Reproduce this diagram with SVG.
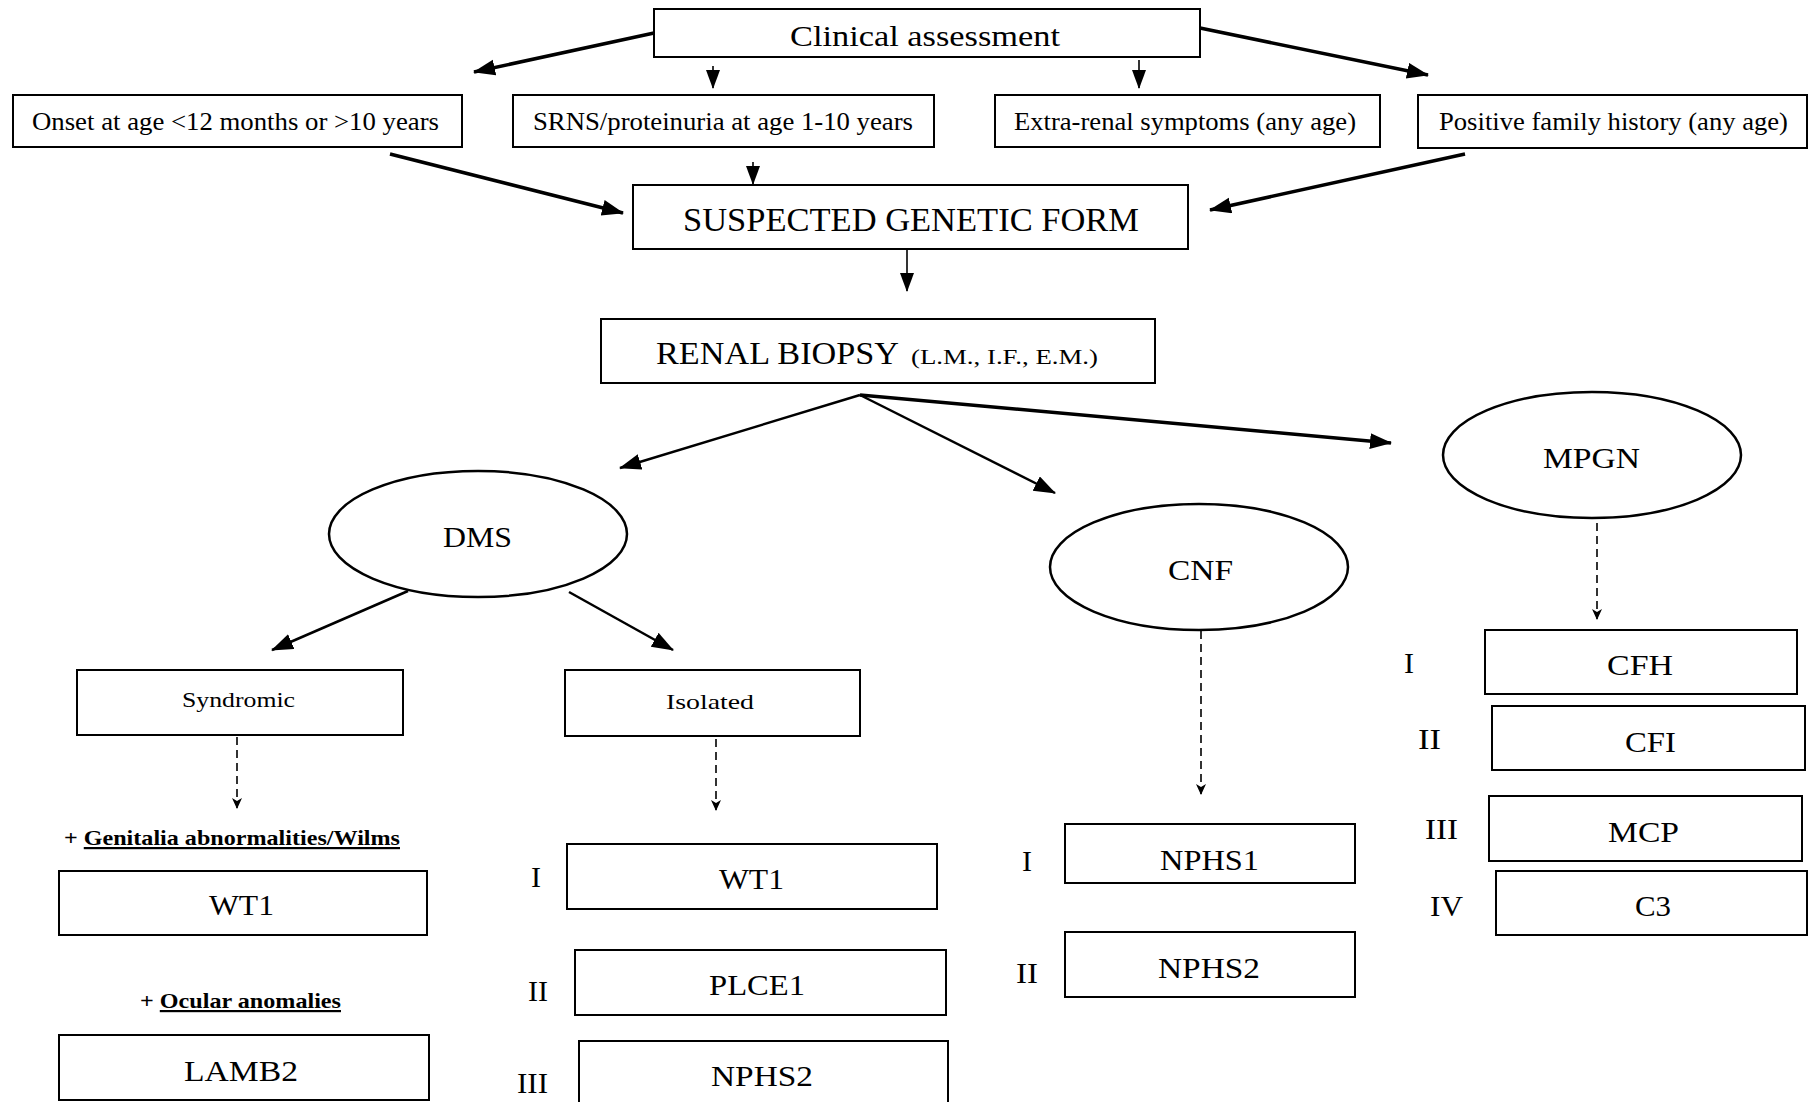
<svg xmlns="http://www.w3.org/2000/svg" width="1808" height="1102" viewBox="0 0 1808 1102">
<style>
.box{fill:#fff;stroke:#000;stroke-width:2}
.ell{fill:#fff;stroke:#000;stroke-width:2.5}
.t{font-family:"Liberation Serif","Times New Roman",serif;fill:#000}
.thick{stroke:#000;stroke-width:3.5;fill:none}
.mid{stroke:#000;stroke-width:2.5;fill:none}
.thin{stroke:#000;stroke-width:1.6;fill:none}
.dash{stroke:#000;stroke-width:1.6;fill:none;stroke-dasharray:8,5}
</style>
<defs>
<marker id="ah" markerUnits="userSpaceOnUse" markerWidth="24" markerHeight="18" refX="21" refY="8" orient="auto"><path d="M0,0 L22,8 L0,16 z" fill="#000"/></marker>
<marker id="av" markerUnits="userSpaceOnUse" markerWidth="20" markerHeight="16" refX="18" refY="7" orient="auto"><path d="M0,0 L19,7 L0,14 z" fill="#000"/></marker>
<marker id="ad" markerUnits="userSpaceOnUse" markerWidth="12" markerHeight="12" refX="10" refY="5" orient="auto"><path d="M0,0 L11,5 L0,10 L3,5 z" fill="#000"/></marker>
</defs>
<rect width="1808" height="1102" fill="#fff"/>

<g id="connectors">
<line class="thick" x1="654" y1="33" x2="474" y2="72" marker-end="url(#ah)"/>
<line class="thin" x1="713" y1="66" x2="713" y2="88" marker-end="url(#av)"/>
<line class="thin" x1="1139" y1="60" x2="1139" y2="88" marker-end="url(#av)"/>
<line class="thick" x1="1200" y1="28" x2="1428" y2="75" marker-end="url(#ah)"/>
<line class="thick" x1="390" y1="154" x2="623" y2="213" marker-end="url(#ah)"/>
<line class="thin" x1="753" y1="162" x2="753" y2="184" marker-end="url(#av)"/>
<line class="thick" x1="1465" y1="154" x2="1210" y2="210" marker-end="url(#ah)"/>
<line class="thin" x1="907" y1="243" x2="907" y2="291" marker-end="url(#av)"/>
<line class="mid" x1="860" y1="395" x2="620" y2="468" marker-end="url(#ah)"/>
<line class="mid" x1="860" y1="395" x2="1055" y2="493" marker-end="url(#ah)"/>
<line class="thick" x1="860" y1="395" x2="1391" y2="443" marker-end="url(#ah)"/>
<line class="mid" x1="408" y1="591" x2="272" y2="650" marker-end="url(#ah)"/>
<line class="mid" x1="569" y1="592" x2="673" y2="650" marker-end="url(#ah)"/>
<line class="dash" x1="237" y1="737" x2="237" y2="808" marker-end="url(#ad)"/>
<line class="dash" x1="716" y1="739" x2="716" y2="810" marker-end="url(#ad)"/>
<line class="dash" x1="1201" y1="631" x2="1201" y2="794" marker-end="url(#ad)"/>
<line class="dash" x1="1597" y1="523" x2="1597" y2="619" marker-end="url(#ad)"/>
</g>

<g id="clinical"><rect class="box" x="654" y="9" width="546" height="48"/><text class="t" x="790" y="46" font-size="30" textLength="270" lengthAdjust="spacingAndGlyphs">Clinical assessment</text></g>
<g id="onset"><rect class="box" x="13" y="95" width="449" height="52"/><text class="t" x="32" y="130" font-size="25" textLength="407" lengthAdjust="spacingAndGlyphs">Onset at age &lt;12 months or &gt;10 years</text></g>
<g id="srns"><rect class="box" x="513" y="95" width="421" height="52"/><text class="t" x="533" y="130" font-size="25" textLength="380" lengthAdjust="spacingAndGlyphs">SRNS/proteinuria at age 1-10 years</text></g>
<g id="extrarenal"><rect class="box" x="995" y="95" width="385" height="52"/><text class="t" x="1014" y="130" font-size="25" textLength="342" lengthAdjust="spacingAndGlyphs">Extra-renal symptoms (any age)</text></g>
<g id="family"><rect class="box" x="1418" y="95" width="389" height="53"/><text class="t" x="1439" y="130" font-size="25" textLength="349" lengthAdjust="spacingAndGlyphs">Positive family history (any age)</text></g>
<g id="suspected"><rect class="box" x="633" y="185" width="555" height="64"/><text class="t" x="683" y="231" font-size="33" textLength="456" lengthAdjust="spacingAndGlyphs">SUSPECTED GENETIC FORM</text></g>
<g id="biopsy"><rect class="box" x="601" y="319" width="554" height="64"/><text class="t" x="656" y="364" font-size="32"><tspan textLength="243" lengthAdjust="spacingAndGlyphs">RENAL BIOPSY</tspan><tspan x="911" font-size="22" textLength="187" lengthAdjust="spacingAndGlyphs">(L.M., I.F., E.M.)</tspan></text></g>

<g id="dms"><ellipse class="ell" cx="478" cy="534" rx="149" ry="63"/><text class="t" x="443" y="547" font-size="30" textLength="69" lengthAdjust="spacingAndGlyphs">DMS</text></g>
<g id="cnf"><ellipse class="ell" cx="1199" cy="567" rx="149" ry="63"/><text class="t" x="1168" y="580" font-size="30" textLength="65" lengthAdjust="spacingAndGlyphs">CNF</text></g>
<g id="mpgn"><ellipse class="ell" cx="1592" cy="455" rx="149" ry="63"/><text class="t" x="1543" y="468" font-size="30" textLength="97" lengthAdjust="spacingAndGlyphs">MPGN</text></g>

<g id="syndromic"><rect class="box" x="77" y="670" width="326" height="65"/><text class="t" x="182" y="707" font-size="22" textLength="113" lengthAdjust="spacingAndGlyphs">Syndromic</text></g>
<g id="isolated"><rect class="box" x="565" y="670" width="295" height="66"/><text class="t" x="666" y="709" font-size="22" textLength="88" lengthAdjust="spacingAndGlyphs">Isolated</text></g>

<g id="genitalia-label"><text class="t" x="64" y="845" font-size="22" font-weight="bold" textLength="336" lengthAdjust="spacingAndGlyphs">+ <tspan text-decoration="underline">Genitalia abnormalities/Wilms</tspan></text></g>
<g id="wt1-synd"><rect class="box" x="59" y="871" width="368" height="64"/><text class="t" x="209" y="915" font-size="30" textLength="65" lengthAdjust="spacingAndGlyphs">WT1</text></g>
<g id="ocular-label"><text class="t" x="140" y="1008" font-size="22" font-weight="bold" textLength="201" lengthAdjust="spacingAndGlyphs">+ <tspan text-decoration="underline">Ocular anomalies</tspan></text></g>
<g id="lamb2"><rect class="box" x="59" y="1035" width="370" height="65"/><text class="t" x="184" y="1081" font-size="30" textLength="114" lengthAdjust="spacingAndGlyphs">LAMB2</text></g>

<g id="wt1-iso"><text class="t" x="531" y="887" font-size="30">I</text><rect class="box" x="567" y="844" width="370" height="65"/><text class="t" x="719" y="889" font-size="30" textLength="65" lengthAdjust="spacingAndGlyphs">WT1</text></g>
<g id="plce1"><text class="t" x="528" y="1001" font-size="30" textLength="20" lengthAdjust="spacingAndGlyphs">II</text><rect class="box" x="575" y="950" width="371" height="65"/><text class="t" x="709" y="995" font-size="30" textLength="96" lengthAdjust="spacingAndGlyphs">PLCE1</text></g>
<g id="nphs2-iso"><text class="t" x="517" y="1093" font-size="30" textLength="31" lengthAdjust="spacingAndGlyphs">III</text><rect class="box" x="579" y="1041" width="369" height="70"/><text class="t" x="711" y="1086" font-size="30" textLength="102" lengthAdjust="spacingAndGlyphs">NPHS2</text></g>

<g id="nphs1"><text class="t" x="1022" y="871" font-size="30">I</text><rect class="box" x="1065" y="824" width="290" height="59"/><text class="t" x="1160" y="870" font-size="30" textLength="99" lengthAdjust="spacingAndGlyphs">NPHS1</text></g>
<g id="nphs2-cnf"><text class="t" x="1016" y="983" font-size="30" textLength="22" lengthAdjust="spacingAndGlyphs">II</text><rect class="box" x="1065" y="932" width="290" height="65"/><text class="t" x="1158" y="978" font-size="30" textLength="102" lengthAdjust="spacingAndGlyphs">NPHS2</text></g>

<g id="cfh"><text class="t" x="1404" y="673" font-size="30">I</text><rect class="box" x="1485" y="630" width="312" height="64"/><text class="t" x="1607" y="675" font-size="30" textLength="66" lengthAdjust="spacingAndGlyphs">CFH</text></g>
<g id="cfi"><text class="t" x="1418" y="749" font-size="30" textLength="23" lengthAdjust="spacingAndGlyphs">II</text><rect class="box" x="1492" y="706" width="313" height="64"/><text class="t" x="1625" y="752" font-size="30" textLength="51" lengthAdjust="spacingAndGlyphs">CFI</text></g>
<g id="mcp"><text class="t" x="1425" y="839" font-size="30" textLength="33" lengthAdjust="spacingAndGlyphs">III</text><rect class="box" x="1489" y="796" width="313" height="65"/><text class="t" x="1608" y="842" font-size="30" textLength="71" lengthAdjust="spacingAndGlyphs">MCP</text></g>
<g id="c3"><text class="t" x="1430" y="916" font-size="30" textLength="33" lengthAdjust="spacingAndGlyphs">IV</text><rect class="box" x="1496" y="871" width="311" height="64"/><text class="t" x="1635" y="916" font-size="30" textLength="36" lengthAdjust="spacingAndGlyphs">C3</text></g>
</svg>
